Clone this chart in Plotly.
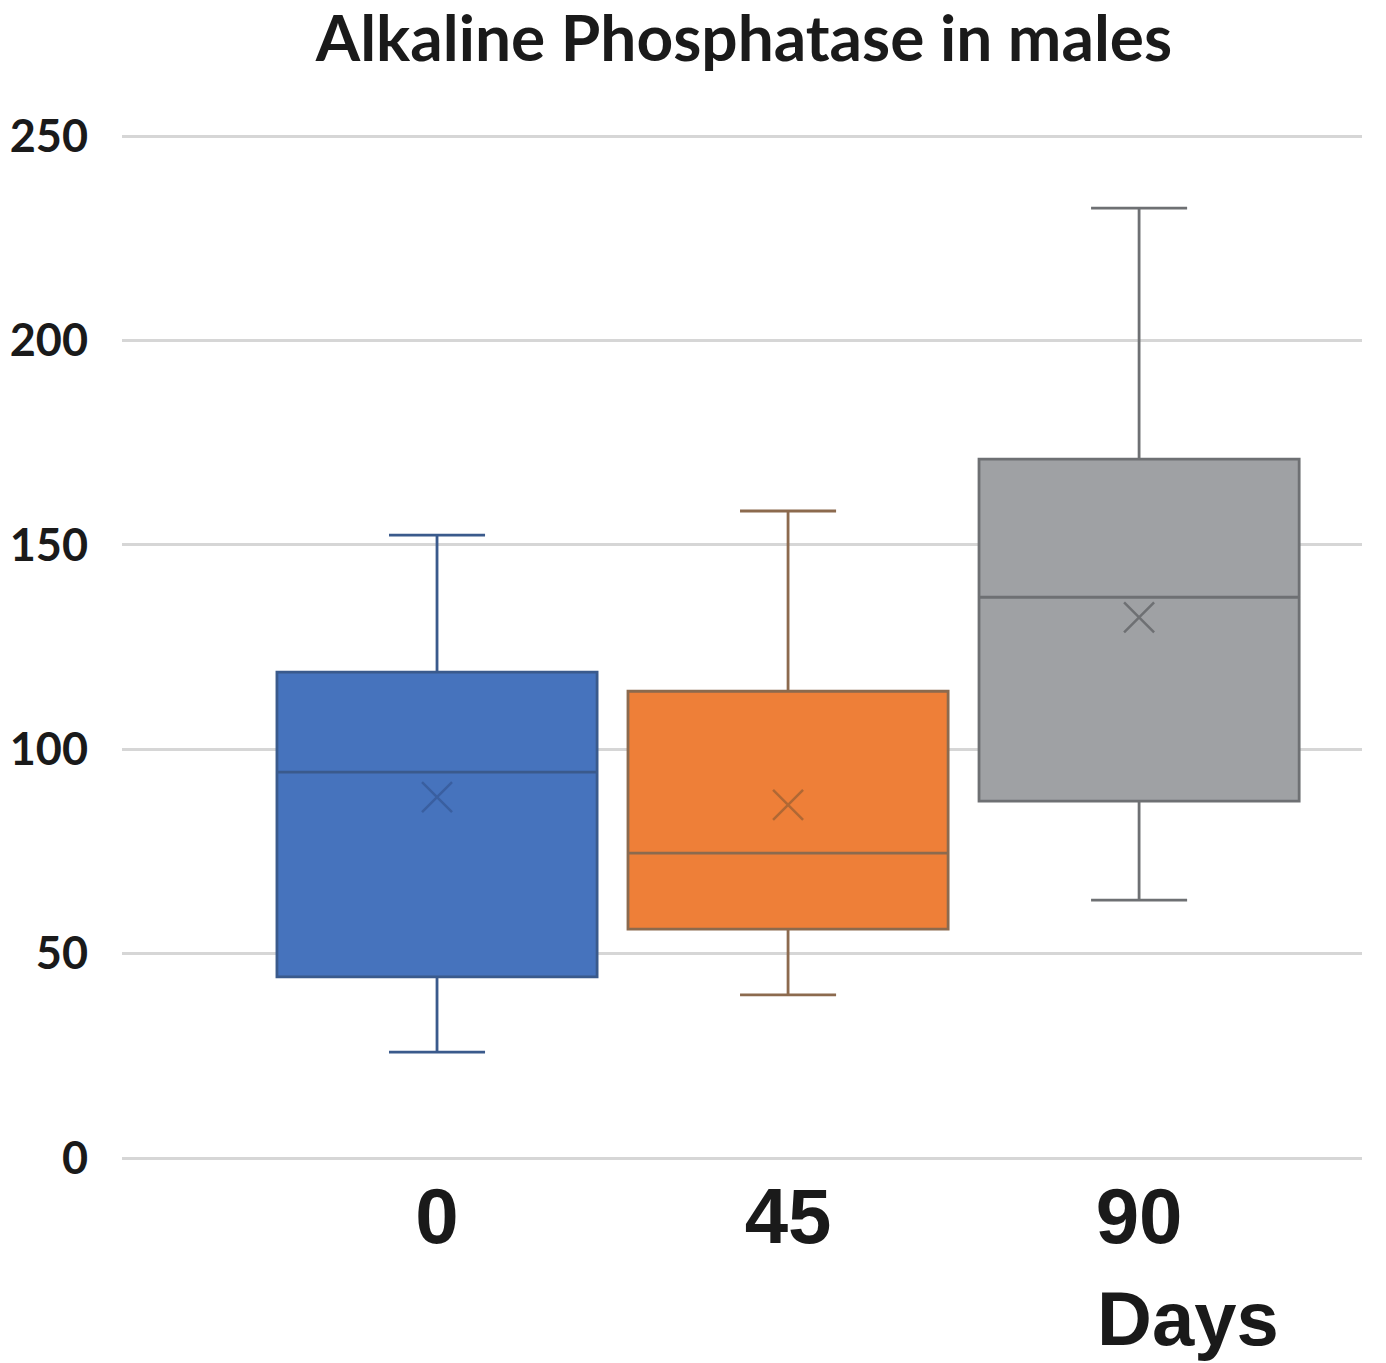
import plotly.graph_objects as go

# ---- data ----
days = ["0", "45", "90"]
lower_whisker = [25.9, 39.9, 63.1]
q1 = [44.3, 56.0, 87.3]
median = [94.4, 74.6, 137.2]
q3 = [118.9, 114.2, 171.0]
upper_whisker = [152.4, 158.3, 232.4]
mean = [88.3, 86.4, 132.3]
y_ticks = [0, 50, 100, 150, 200, 250]

fill_colors = ["#4673BD", "#EE7F38", "#9FA1A4"]
line_colors = ["#3A5A8C", "#8C6A4E", "#6E7073"]
mean_colors = ["#3A5FA0", "#B06834", "#6E7073"]

fig = go.Figure()
for i, d in enumerate(days):
    fig.add_trace(go.Box(
        x=[d], q1=[q1[i]], median=[median[i]], q3=[q3[i]],
        lowerfence=[lower_whisker[i]], upperfence=[upper_whisker[i]],
        fillcolor=fill_colors[i], line=dict(color=line_colors[i], width=2.8),
        width=0.912, whiskerwidth=0.3, boxpoints=False, hoverinfo="skip",
        showlegend=False,
    ))
    fig.add_trace(go.Scatter(
        x=[d], y=[mean[i]], mode="markers",
        marker=dict(symbol="x-thin-open", size=30, color=mean_colors[i],
                    line=dict(color=mean_colors[i], width=2.5)),
        showlegend=False, hoverinfo="skip",
    ))

fig.update_layout(
    width=1386, height=1363,
    margin=dict(l=114, r=32, t=82, b=191, autoexpand=False),
    paper_bgcolor="white", plot_bgcolor="white",
    boxmode="overlay",
    title=dict(text="Alkaline Phosphatase in males", x=0.531, xanchor="center",
               y=1 - 31 / 1363, yanchor="middle", yref="container",
               font=dict(family="Lato", size=64, color="#1a1a1a", weight="bold")),
    xaxis=dict(type="category", range=[-0.8974, 2.635], showgrid=False,
               zeroline=False, showline=False, ticks="",
               ticklabelstandoff=-16, automargin=False,
               tickfont=dict(family="Liberation Sans", size=78, color="#1a1a1a",
                             weight="bold")),
    yaxis=dict(range=[-5.38, 261.3], tickvals=y_ticks, showgrid=True,
               gridcolor="#D6D6D6", gridwidth=2.5, zeroline=False, showline=False,
               ticks="outside", ticklen=24, tickcolor="rgba(0,0,0,0)",
               automargin=False,
               tickfont=dict(family="Lato", size=45, color="#1a1a1a", weight="bold")),
    annotations=[dict(text="Days", xref="paper", yref="paper",
                      x=(1188 - 122) / (1362 - 122), y=-(1318 - 1180) / (1180 - 90),
                      xanchor="center", yanchor="middle", showarrow=False,
                      font=dict(family="Liberation Sans", size=76, color="#1a1a1a",
                                weight="bold"))],
)

fig.write_html("out.html")
